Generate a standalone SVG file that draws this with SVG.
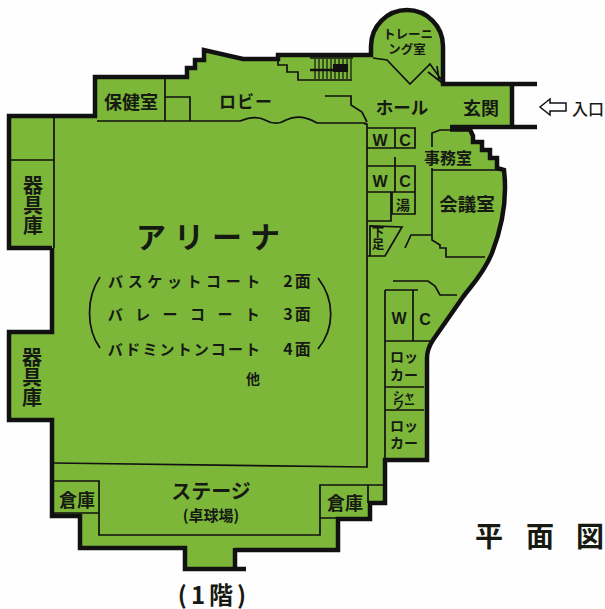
<svg xmlns="http://www.w3.org/2000/svg" width="605" height="609" viewBox="0 0 605 609">
<style>
text{font-family:"Noto Sans CJK JP","Noto Sans",sans-serif;font-weight:700;fill:#161a12;text-anchor:middle;dominant-baseline:central}
.v{writing-mode:vertical-rl}
.o{fill:none;stroke:#111;stroke-width:4.5;stroke-linejoin:miter}
.l{fill:none;stroke:#111;stroke-width:1.7}
.h{stroke:#111;stroke-width:1.2}
.lat{font-family:"Liberation Sans",sans-serif;font-size:16px}
</style>
<rect width="605" height="609" fill="#fefefe"/>
<g id="plan">
<path id="floor" fill="#7cb73a" d="M9 116H95V77H187V68H195V60H204V50L243 59H278V55H371V46A36 36 0 0 1 443 46V84H512V127H470L473 142H482V150H490V158H497V168L504 170C507 195 504 222 492 253C483 275 470 287 463 297L433 340C429 346 427 352 427 358V460H385V503H370V519H338V550H235V569H185V548H80V516H52V420H9V332H52V248H9Z"/>
<g id="walls">
<path class="o" d="M52 248H9V116H95V77H187V68H195V60H204V50L243 59H278V55H371V46A36 36 0 0 1 443 46V84H537"/>
<path class="o" d="M450 127H537"/>
<path class="o" d="M512 84V127"/>
<path class="o" d="M450 129.500H470L473 136V142H482V150H490V158H497V168L504 170C507 195 504 222 492 253C483 275 470 287 463 297L433 340C429 346 427 352 427 358V460H385V503H370V519H338V550H235"/>
<path class="o" d="M235 548V569H246M235 569H185V548H80V516H52V420H9V332H52V248"/>
</g>
<g id="partitions">
<path class="l" d="M97 121H240C250 117 258 116 265 120C272 124 280 124 286 120C294 116 305 116 317 123H365V124H367V467L54 463"/>
<path class="l" d="M9 160H54M54 116V248M165 77V121M165 97H190V121"/>
<path class="l" d="M278 57V65H287V72H298V80H352M310 58H353M325 96H351V105L362 112L367 122"/>
<path class="l" d="M373 58L387 60L410 84L430 64L443 82M428 72L445 85M437 66L439 80"/>
<path class="l" d="M367 128H415V148H367M395 128V148M367 166H415V214H392V192M395 157V192M367 192H415M367 221H391V192"/>
<path class="l" d="M367 256H385L402 227L370 226V256M405 248L411 235H432"/>
<path class="l" d="M432 147V133L440 130H450M432 170H503M432 168V240L440 245V248H446V257H485"/>
<path class="l" d="M393 281H428L435 286L440 295H457M385 290H418M385 290V460M413 290V341M385 341H430M385 387H424M385 410H424"/>
<path class="l" d="M54 481H99V535H320V518M52 513H99M320 518V485H385M320 518H370M368 485V503"/>
<path class="l" d="M100 277C86 298 86 328 100 348M318 278C335 300 335 328 318 349"/>
</g>
<g id="stairs">
<path class="h" d="M315 59V79M319 59V79M323 59V79M327 59V79M331 59V79M335 59V79M339 59V79M343 59V79M347 59V79M351 59V79"/>
<path stroke="#111" stroke-width="2.500" d="M310 70H333"/>
<rect x="333" y="64" width="15" height="8" fill="#111"/>
</g>
<path id="entrance-arrow" fill="#fefefe" stroke="#111" stroke-width="1.500" d="M540 107L550 99V103H566V111H550V115Z"/>
</g>
<g id="labels">
<text x="131" y="101" font-size="18">保健室</text>
<text x="246" y="100" font-size="17" letter-spacing="1">ロビー</text>
<text x="402" y="106" font-size="17.500">ホール</text>
<text x="481" y="107" font-size="18">玄関</text>
<text x="588" y="108" font-size="16" style="font-weight:500">入口</text>
<text font-size="12.500"><tspan x="408" y="33">トレーニ</tspan><tspan x="407" y="48">ング室</tspan></text>
<text class="lat" x="380" y="140">W</text><text class="lat" x="405" y="140">C</text>
<text class="lat" x="380" y="181">W</text><text class="lat" x="405" y="181">C</text>
<text class="lat" x="399" y="318">W</text><text class="lat" x="425" y="319">C</text>
<text x="448" y="157" font-size="16">事務室</text>
<text x="467" y="203" font-size="18.500">会議室</text>
<text x="403" y="204" font-size="14">湯</text>
<text class="v" x="378" y="238" font-size="12.500">下足</text>
<text x="212" y="235" font-size="30" letter-spacing="8">アリーナ</text>
<text x="186.500" y="280" font-size="15" letter-spacing="4.600">バスケットコート</text>
<text x="190" y="313" font-size="15" letter-spacing="12.400">バレーコート</text>
<text x="185" y="348" font-size="15" letter-spacing="2.100">バドミントンコート</text>
<text x="298" y="280" font-size="16" letter-spacing="2">2面</text>
<text x="298" y="313" font-size="16" letter-spacing="2">3面</text>
<text x="298" y="348" font-size="16" letter-spacing="2">4面</text>
<text x="253" y="378" font-size="14">他</text>
<text class="v" x="33" y="205" font-size="20">器具庫</text>
<text class="v" x="32" y="377" font-size="20">器具庫</text>
<text x="77" y="499" font-size="18">倉庫</text>
<text x="345" y="502" font-size="18">倉庫</text>
<text x="211" y="490" font-size="20">ステージ</text>
<text x="211" y="514" font-size="15">(卓球場)</text>
<text x="214" y="593" font-size="24" letter-spacing="4">(1階)</text>
<text x="489" y="535" font-size="28">平</text><text x="540" y="535" font-size="28">面</text><text x="590" y="535" font-size="28">図</text>
<text font-size="14"><tspan x="404" y="356">ロッ</tspan><tspan x="404" y="374">カー</tspan></text>
<text font-size="11"><tspan x="404" y="395">シャ</tspan><tspan x="404" y="404">ワー</tspan></text>
<text font-size="14"><tspan x="404" y="425">ロッ</tspan><tspan x="404" y="442">カー</tspan></text>
</g>
</svg>
